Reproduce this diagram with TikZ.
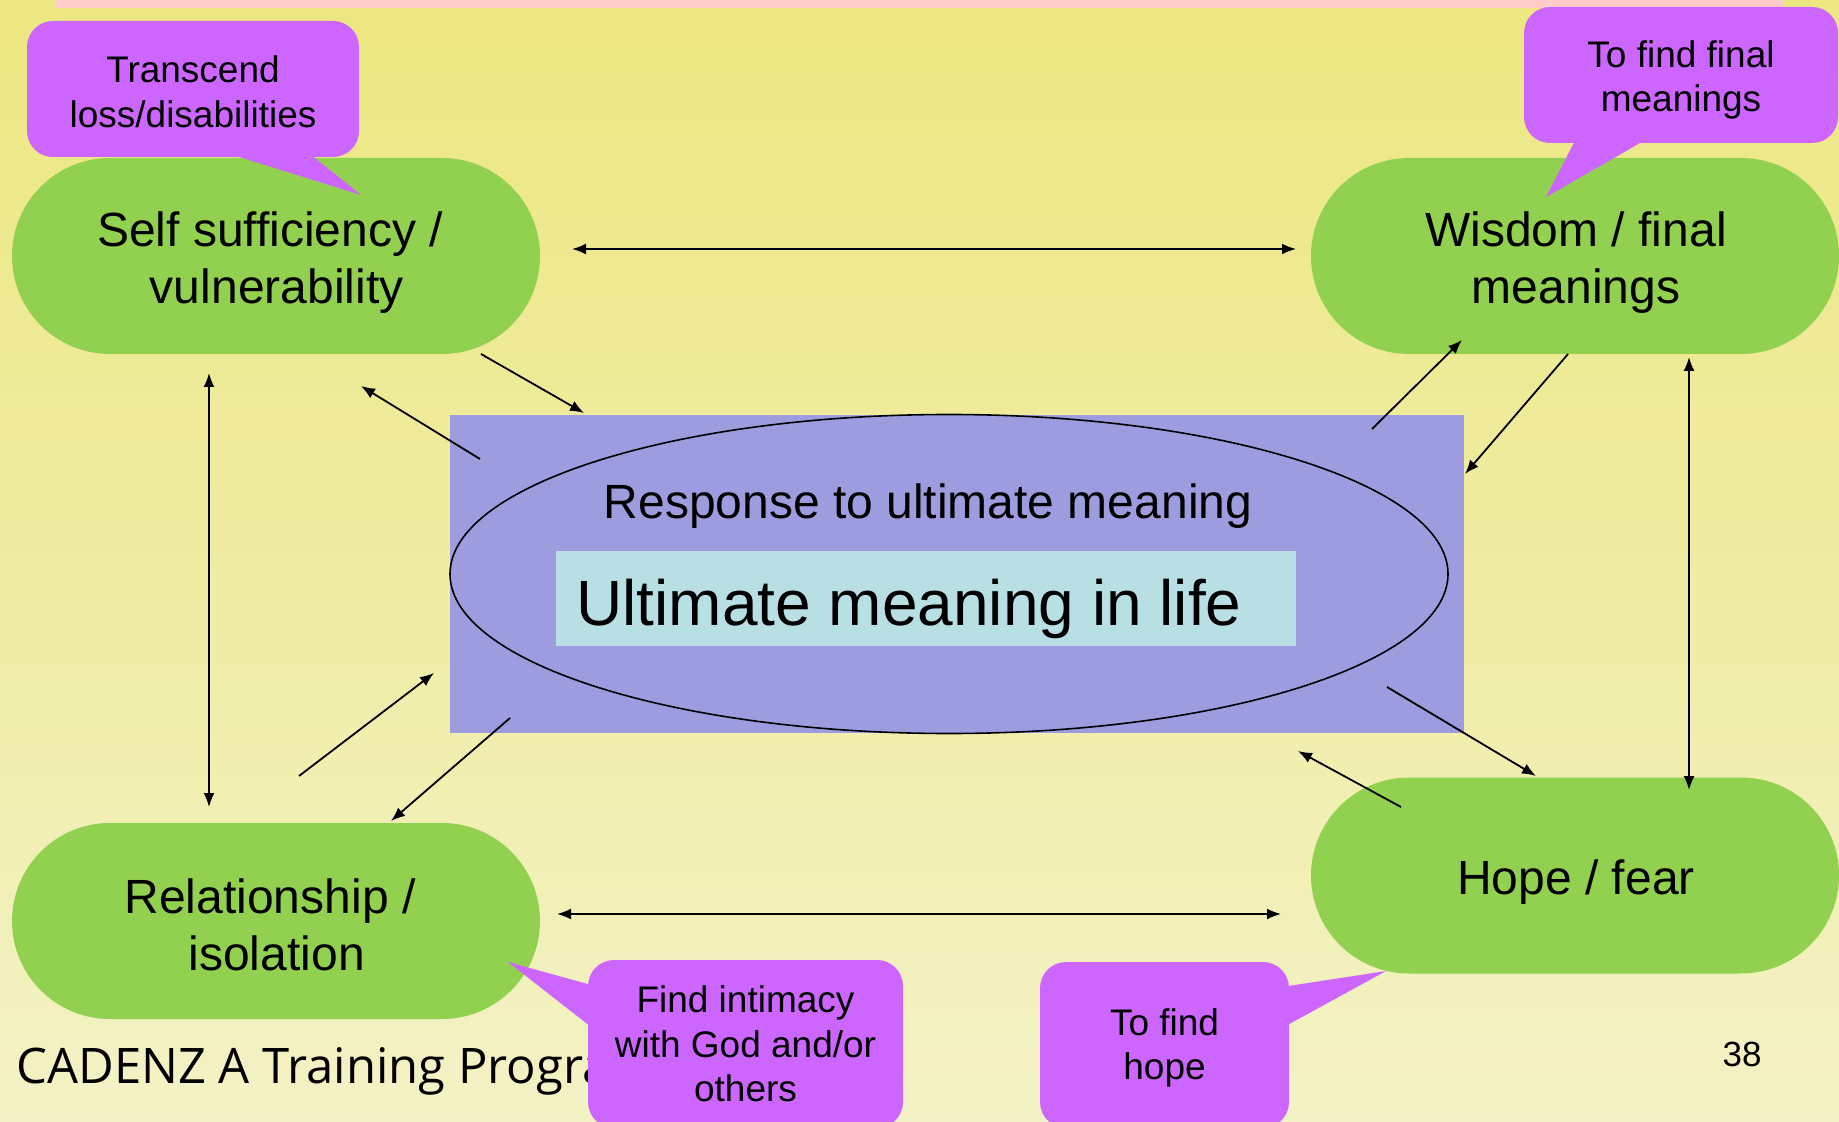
\documentclass[tikz,border=0pt]{standalone}
\usepackage{fontspec}
\setmainfont{Liberation Sans}
\newfontfamily\cadfont{Open Sans}
\usetikzlibrary{arrows.meta}
\definecolor{bgtop}{HTML}{ECE780}
\definecolor{bgmid}{HTML}{F0EE9C}
\definecolor{bgbot}{HTML}{F3F2C6}
\definecolor{pinkstrip}{HTML}{FFCCCC}
\definecolor{greenbox}{HTML}{92D050}
\definecolor{purplecall}{HTML}{CC66FF}
\definecolor{bluebox}{HTML}{9C9CDE}
\definecolor{cyanbox}{HTML}{B8E0E4}
\tikzset{
  greenshape/.style={fill=greenbox, draw=none, minimum width=264pt, minimum height=98pt,
    rounded corners=49pt, inner sep=0pt},
  greentext/.style={align=center, inner sep=0pt, font=\fontsize{24}{28.5}\selectfont},
  callout/.style={fill=purplecall, draw=none, rounded corners=13pt, inner sep=0pt},
  callouttext/.style={align=center, inner sep=0pt, font=\fontsize{18.5}{22.3}\selectfont},
  tailshape/.style={fill=purplecall, draw=none},
  conn/.style={line width=0.9pt, -{Latex[length=7pt,width=5.5pt]}},
  dconn/.style={line width=0.9pt, {Latex[length=7pt,width=5.5pt]}-{Latex[length=7pt,width=5.5pt]}}
}
\begin{document}
\begin{tikzpicture}[x=0.5pt,y=-0.5pt]
\useasboundingbox (0,0) rectangle (1839,1122);
% background
\fill[top color=bgtop, middle color=bgmid, bottom color=bgbot] (0,0) rectangle (1839,1122);
\fill[pinkstrip] (56,0) rectangle (1783,8);
% footer
\node[anchor=base west, inner sep=0pt, font=\cadfont\fontsize{24.5}{28}\selectfont] (footer) at (16,1083) {CADENZ A Training Progra};
\node[anchor=base, inner sep=0pt, font=\fontsize{17.5}{21}\selectfont] (pagenum) at (1742,1066) {38};
% green shapes
\node[greenshape] (self) at (276,256) {};
\node[greentext] (selftext) at (276.7,263) {Self sufficiency /\kern0.278em\\vulnerability};
\node[greenshape] (wisdom) at (1575,256) {};
\node[greentext] (wisdomtext) at (1576,263) {Wisdom / final\\meanings};
\node[greenshape] (relation) at (276,921) {};
\node[greentext] (relationtext) at (276.7,925) {Relationship /\kern0.278em\\isolation};
\node[greenshape] (hope) at (1575,875.5) {};
\node[greentext] (hopetext) at (1576,882) {Hope / fear};
% centre
\node[fill=bluebox, minimum width=507pt, minimum height=159pt, inner sep=0pt] (blue) at (957,574) {};
\draw[line width=0.8pt] (949,574) ellipse [x radius=499, y radius=159.5];
\node[anchor=base, inner sep=0pt, font=\fontsize{24}{28}\selectfont] (response) at (928,518) {Response to ultimate meaning};
\node[fill=cyanbox, minimum width=370pt, minimum height=47.5pt, inner sep=0pt] (cyan) at (926,598.5) {};
\node[anchor=base west, inner sep=0pt, font=\fontsize{32}{38}\selectfont] (ultimate) at (576,625) {Ultimate meaning in life};
% arrow end points
\coordinate (h1a) at (572,249); \coordinate (h1b) at (1296,249);
\coordinate (h2a) at (557,914); \coordinate (h2b) at (1281,914);
\coordinate (v1a) at (209,373); \coordinate (v1b) at (209,807);
\coordinate (v2a) at (1689,357); \coordinate (v2b) at (1689,790);
\coordinate (s1) at (481,354); \coordinate (e1) at (584,413);
\coordinate (s2) at (480,459); \coordinate (e2) at (361,386);
\coordinate (s3) at (1372,429); \coordinate (e3) at (1462,340);
\coordinate (s4) at (1568,354); \coordinate (e4) at (1465,474);
\coordinate (s5) at (1387,687); \coordinate (e5) at (1536,776);
\coordinate (s6) at (1401,807); \coordinate (e6) at (1298,751);
\coordinate (s7) at (299,776); \coordinate (e7) at (434,673);
\coordinate (s8) at (510,718); \coordinate (e8) at (391,821);
\draw[dconn] (h1a) -- (h1b);
\draw[dconn] (h2a) -- (h2b);
\draw[dconn] (v1a) -- (v1b);
\draw[dconn] (v2a) -- (v2b);
\draw[conn] (s1) -- (e1);
\draw[conn] (s2) -- (e2);
\draw[conn] (s3) -- (e3);
\draw[conn] (s4) -- (e4);
\draw[conn] (s5) -- (e5);
\draw[conn] (s6) -- (e6);
\draw[conn] (s7) -- (e7);
\draw[conn] (s8) -- (e8);
% callouts
\fill[tailshape] (217,150) -- (361,195) -- (305,150) -- cycle;
\node[callout, minimum width=166pt, minimum height=68pt] (transcend) at (193,89) {};
\node[callouttext] (transcendtext) at (193,92) {Transcend\\loss/disabilities};
\fill[tailshape] (1578,135) -- (1546,197) -- (1654,135) -- cycle;
\node[callout, minimum width=157pt, minimum height=68pt] (findfinal) at (1681,75) {};
\node[callouttext] (findfinaltext) at (1681,80) {To find final\\meanings};
\fill[tailshape] (595,986) -- (508,962) -- (595,1030) -- cycle;
\node[callout, minimum width=157.5pt, minimum height=84pt] (intimacy) at (745.5,1044) {};
\node[callouttext] (intimacytext) at (745.5,1044) {Find intimacy\\with God and/or\\others};
\fill[tailshape] (1282,987) -- (1386,971) -- (1282,1028) -- cycle;
\node[callout, minimum width=124.5pt, minimum height=83pt] (findhope) at (1164.5,1045) {};
\node[callouttext] (findhopetext) at (1164.5,1048) {To find\\hope};
\end{tikzpicture}
\end{document}
